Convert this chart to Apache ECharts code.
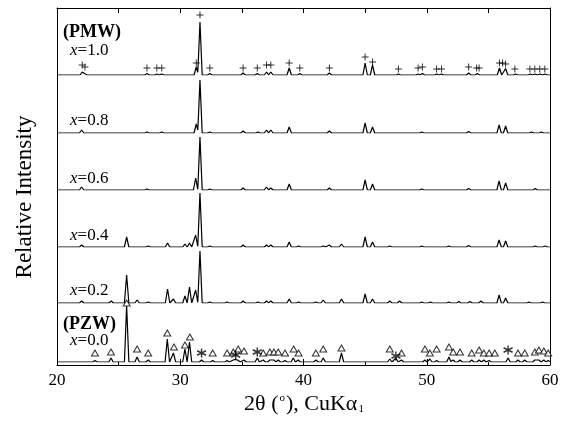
<!DOCTYPE html>
<html><head><meta charset="utf-8">
<script src="https://cdn.jsdelivr.net/npm/echarts@6/dist/echarts.min.js"></script>
<style>html,body{margin:0;padding:0;background:#fff}#c{width:564px;height:424px}</style>
</head><body><div id="c"></div>
<script>
// ---------- DATA ----------
const sampleLabels = ['1.0', '0.8', '0.6', '0.4', '0.2', '0.0'];
const xTickValues = [20, 30, 40, 50, 60];

// peaks: [2θ (deg), relative intensity]
const peaksX10 = [[22.05,3],[22.27,2],[27.3,1.5],[28.1,1],[28.5,1],[31.3,8],[31.6,53],[32.4,1.5],[35.1,2],[36.25,1.5],[37.0,3],[37.35,3],[38.84,7],[39.7,1.5],[42.1,2],[45.0,12],[45.6,10],[47.7,1],[49.3,1],[49.65,1.5],[50.8,1],[51.2,1],[53.4,2],[54.1,1.5],[55.9,7],[56.4,6.5],[57.2,1],[58.4,1],[58.8,1],[59.2,1],[59.6,1]];
const peaksX08 = [[22.0,3],[27.3,1],[28.5,1],[31.3,9],[31.6,53],[32.4,1],[35.1,2],[36.3,1],[37.0,3],[37.35,3],[38.84,6],[42.1,2],[45.0,10],[45.6,6],[49.6,1],[53.4,1.5],[55.87,8],[56.4,7],[58.5,1],[59.3,1]];
const peaksX06 = [[22.0,3],[27.3,1],[31.25,12],[31.6,53],[32.4,1],[35.1,2],[37.0,3],[37.35,2],[38.84,6],[42.1,2],[45.0,10],[45.6,6],[49.6,1],[53.4,1.5],[55.87,9],[56.4,7],[58.8,1.5]];
const peaksX04 = [[22.0,2],[25.65,10],[27.4,1],[28.97,4],[30.38,3],[30.75,4],[31.25,12],[31.6,54],[32.4,1],[35.1,2],[37.0,2],[37.35,2],[38.84,5],[39.6,1],[41.6,1],[42.1,2],[43.08,3],[45.0,10],[45.6,5],[47.0,1],[49.6,1],[51.8,1],[53.4,1.5],[55.87,7],[56.4,6],[58.8,1],[59.6,1]];
const peaksX02 = [[22.0,2],[24.4,2],[25.65,28],[26.5,3],[27.4,1],[28.97,14],[29.45,4],[30.38,7],[30.75,16],[31.25,13],[31.6,52],[32.4,1],[33.8,1],[35.1,2],[36.3,1],[37.0,2],[37.35,2],[38.84,4],[39.6,1],[41.0,1],[41.6,3],[43.08,4],[45.0,9],[45.6,4],[47.0,2],[47.8,2],[49.6,1],[50.3,1],[51.8,1],[52.6,1.5],[53.5,1.5],[54.4,2],[55.87,8],[56.4,5],[58.3,1],[59.4,1]];
const peaksX00 = [[23.08,1.5],[24.38,4],[25.65,56],[26.5,5],[27.4,2],[28.95,23],[29.45,9],[30.38,13],[30.75,20],[31.73,2],[32.63,1.5],[33.8,1.5],[34.3,2],[34.5,3],[34.7,2],[35.17,2],[36.25,4],[36.73,2],[37.27,2],[37.6,2],[37.95,2],[38.5,1.5],[39.17,4],[39.57,2],[41.0,2],[41.6,4],[43.08,9],[47.0,3],[47.5,4],[47.95,2],[49.85,2],[50.25,3],[50.8,1.5],[51.8,5],[52.14,2],[52.7,2],[53.65,2],[54.25,2],[54.63,2],[55.06,1.5],[56.6,4],[57.4,2],[57.95,2],[58.77,2],[59.1,2],[59.5,2],[59.85,1.5]];

// phase markers: [2θ, level]
const pmwPlusMarks = [[22.05,10],[22.27,8],[27.3,7],[28.1,7],[28.5,7],[31.3,12],[31.6,60],[32.4,7],[35.1,7],[36.25,7],[37.0,10],[37.35,10],[38.84,12],[39.7,7],[42.1,7],[45.0,18],[45.6,13],[47.7,6],[49.3,7],[49.65,8],[50.8,6],[51.2,6],[53.4,8],[54.05,7],[54.25,7],[55.9,12],[56.15,12],[56.4,11],[57.15,6],[58.37,6],[58.77,6],[59.17,6],[59.58,6]];
const pzwTriangleMarks = [[23.08,9],[24.38,10],[25.65,59],[26.5,13],[27.4,9],[28.95,29],[29.49,15],[30.38,17],[30.78,25],[32.63,9],[33.8,9],[34.3,10],[34.7,13],[35.17,11],[36.73,9],[37.27,10],[37.6,10],[37.95,10],[38.5,9],[39.2,13],[39.6,9],[41.0,9],[41.6,13],[43.08,14],[47.0,13],[47.95,9],[49.85,13],[50.25,9],[50.8,13],[51.8,15],[52.14,10],[52.7,10],[53.65,9],[54.25,12],[54.63,9],[55.06,9],[55.52,9],[57.4,9],[57.95,9],[58.77,10],[59.1,12],[59.5,11],[59.85,9]];
const starMarks = [[31.73,9],[34.5,7],[36.25,10],[47.5,6],[56.6,12]];

const allPeaks = [peaksX10, peaksX08, peaksX06, peaksX04, peaksX02, peaksX00];

// ---------- LAYOUT ----------
const PL = 57, PW = 493, PT = 8, PH = 357;
const baselines = [75, 133, 190, 247, 303, 362];
const GH = 70;
const labelY = [51, 121, 179, 236, 291, 341];
const serif = '"Liberation Serif", "Times New Roman", serif';
const halfWidth = 0.18;

function profile(peaks) {
  const xs = new Set([20, 60]);
  peaks.forEach(([p]) => { xs.add(+(p - halfWidth).toFixed(3)); xs.add(p); xs.add(+(p + halfWidth).toFixed(3)); });
  const arr = [...xs].filter(x => x >= 20 && x <= 60).sort((a, b) => a - b);
  return arr.map(x => [x, peaks.reduce((s, [p, h]) => s + Math.max(0, h * (1 - Math.abs(x - p) / halfWidth)), 0)]);
}

const grids = [{ left: PL, top: PT, width: PW, height: PH }];
const xAxes = [
  { gridIndex: 0, type: 'value', min: 20, max: 60, interval: 10, position: 'bottom',
    axisLine: { onZero: false, lineStyle: { color: '#000', width: 1 } },
    axisTick: { inside: true, length: 6, lineStyle: { color: '#000' } },
    minorTick: { show: true, splitNumber: 2, length: 3, lineStyle: { color: '#000' } },
    axisLabel: { color: '#000', fontFamily: serif, fontSize: 17, margin: 7,
      formatter: v => xTickValues.includes(v) ? String(v) : '' },
    splitLine: { show: false } },
  { gridIndex: 0, type: 'value', min: 20, max: 60, interval: 5, position: 'top',
    axisLine: { onZero: false, lineStyle: { color: '#000', width: 1 } },
    axisTick: { inside: true, length: 5, lineStyle: { color: '#000' } },
    axisLabel: { show: false }, splitLine: { show: false } }
];
const yAxes = [
  { gridIndex: 0, type: 'value', min: 0, max: 1, position: 'left',
    axisLine: { show: true, onZero: false, lineStyle: { color: '#000', width: 1 } },
    axisTick: { show: false }, axisLabel: { show: false }, splitLine: { show: false } },
  { gridIndex: 0, type: 'value', min: 0, max: 1, position: 'right',
    axisLine: { show: true, onZero: false, lineStyle: { color: '#000', width: 1 } },
    axisTick: { show: false }, axisLabel: { show: false }, splitLine: { show: false } }
];
const series = [];
allPeaks.forEach((pk, i) => {
  grids.push({ left: PL, width: PW, top: baselines[i] - GH, height: GH });
  xAxes.push({ gridIndex: i + 1, type: 'value', min: 20, max: 60, show: false });
  yAxes.push({ gridIndex: i + 1, type: 'value', min: 0, max: GH, show: false });
  series.push({ type: 'line', xAxisIndex: i + 2, yAxisIndex: i + 2, data: profile(pk),
    symbol: 'none', lineStyle: { color: '#000', width: 1.2 }, z: 2, silent: true });
});
const markStyle = { color: 'transparent', borderColor: '#000', borderWidth: 1 };
series.push({ type: 'scatter', xAxisIndex: 2, yAxisIndex: 2, data: pmwPlusMarks,
  symbol: 'path://M0,5L10,5M5,0L5,10', symbolSize: 7, itemStyle: markStyle, z: 3 });
series.push({ type: 'scatter', xAxisIndex: 7, yAxisIndex: 7, data: pzwTriangleMarks,
  symbol: 'triangle', symbolSize: [7, 6], itemStyle: { color: '#fff', borderColor: '#000', borderWidth: 1 }, z: 3 });
series.push({ type: 'scatter', xAxisIndex: 7, yAxisIndex: 7, data: starMarks,
  symbol: 'path://M5,0L5,10M0.7,2.5L9.3,7.5M0.7,7.5L9.3,2.5', symbolSize: 9,
  itemStyle: { color: 'transparent', borderColor: '#000', borderWidth: 1.4 }, z: 3 });

const graphic = [];
const rich = { i: { fontStyle: 'italic', fontFamily: serif, fontSize: 17 } };
sampleLabels.forEach((lab, i) => {
  graphic.push({ type: 'text', x: 70, y: labelY[i], z: 10,
    style: { text: '{i|x}=' + lab, rich: rich, font: '17px ' + serif, fill: '#000', verticalAlign: 'middle', textVerticalAlign: 'middle' } });
});
graphic.push({ type: 'text', x: 63, y: 32, z: 10,
  style: { text: '(PMW)', font: 'bold 18px ' + serif, fill: '#000', verticalAlign: 'middle', textVerticalAlign: 'middle' } });
graphic.push({ type: 'text', x: 63, y: 324, z: 10,
  style: { text: '(PZW)', font: 'bold 18px ' + serif, fill: '#000', verticalAlign: 'middle', textVerticalAlign: 'middle' } });
graphic.push({ type: 'text', x: 25, y: 197, rotation: Math.PI / 2, z: 10,
  style: { text: 'Relative Intensity', font: '23px ' + serif, fill: '#000', align: 'center', textAlign: 'center', verticalAlign: 'middle', textVerticalAlign: 'middle' } });
graphic.push({ type: 'text', x: 304, y: 404, z: 10,
  style: { text: '2θ ({s|o}), CuKα{b|1}', font: '22px ' + serif, fill: '#000', align: 'center', textAlign: 'center', verticalAlign: 'middle', textVerticalAlign: 'middle',
    rich: { s: { fontSize: 11, fontFamily: serif, verticalAlign: 'top', lineHeight: 11, padding: [0, 1, 9, 1] },
            b: { fontSize: 11, fontFamily: serif, verticalAlign: 'bottom', lineHeight: 11, padding: [9, 0, 0, 1] } } } });

const chart = echarts.init(document.getElementById('c'), null, { renderer: 'canvas' });
chart.setOption({ animation: false, backgroundColor: '#fff', grid: grids, xAxis: xAxes, yAxis: yAxes, series: series, graphic: graphic });
</script></body></html>
